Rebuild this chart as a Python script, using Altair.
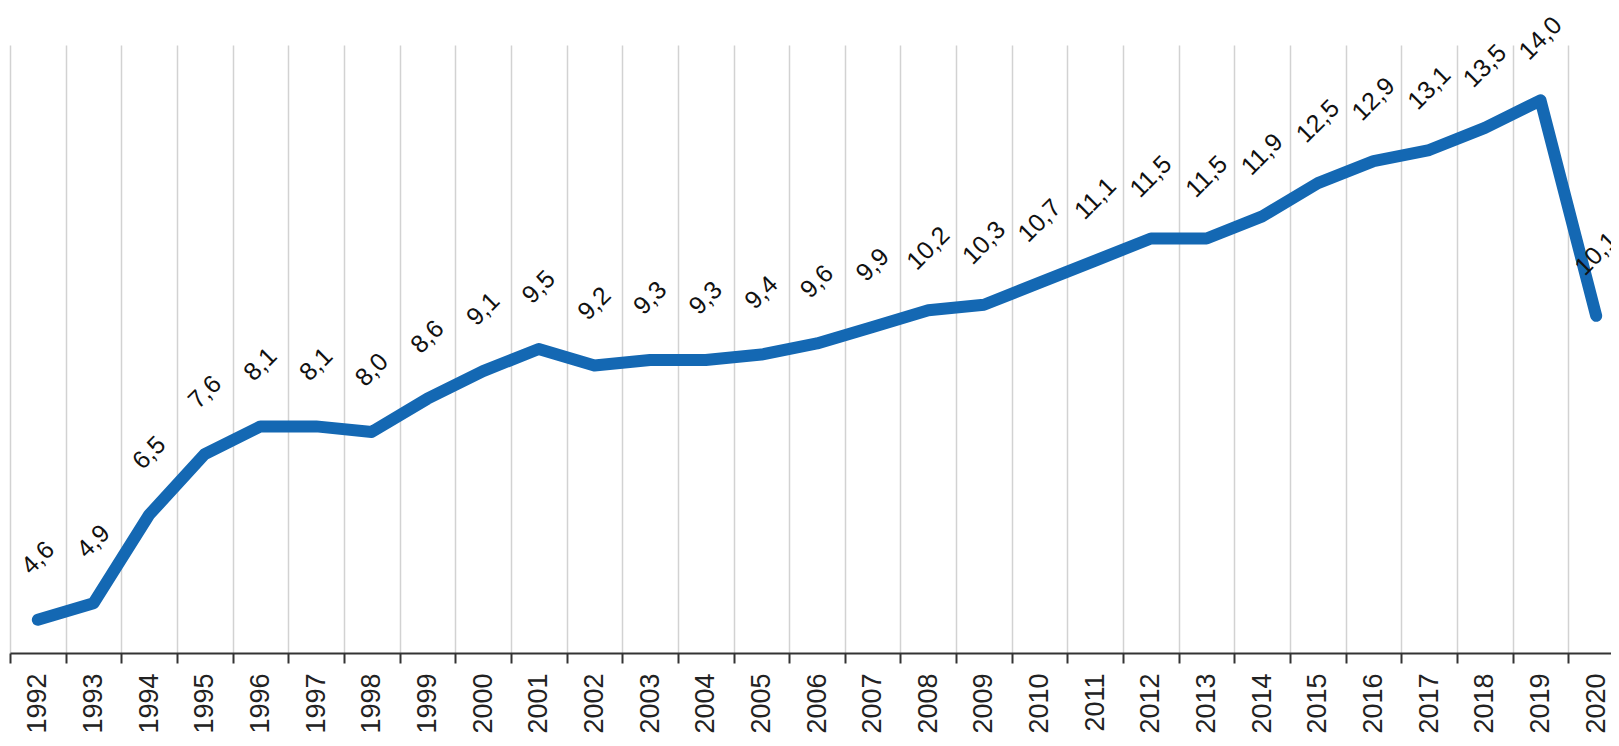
import altair as alt
import pandas as pd

years = [1992, 1993, 1994, 1995, 1996, 1997, 1998, 1999, 2000, 2001,
         2002, 2003, 2004, 2005, 2006, 2007, 2008, 2009, 2010, 2011,
         2012, 2013, 2014, 2015, 2016, 2017, 2018, 2019, 2020]
values = [4.6, 4.9, 6.5, 7.6, 8.1, 8.1, 8.0, 8.6, 9.1, 9.5,
          9.2, 9.3, 9.3, 9.4, 9.6, 9.9, 10.2, 10.3, 10.7, 11.1,
          11.5, 11.5, 11.9, 12.5, 12.9, 13.1, 13.5, 14.0, 10.1]
labels = [f"{v:.1f}".replace(".", ",") for v in values]

df = pd.DataFrame({"year": years, "value": values, "label": labels})

x = alt.X(
    "year:O",
    scale=alt.Scale(type="band", paddingInner=0, paddingOuter=0),
    axis=alt.Axis(
        title=None,
        labelAngle=-90,
        labelFontSize=27,
        labelFont="Liberation Sans",
        labelColor="#222222",
        labelPadding=10,
        tickSize=10,
        tickWidth=2,
        tickColor="#333333",
        domainColor="#333333",
        domainWidth=2,
        grid=True,
        gridColor="#d2d2d2",
        gridWidth=1.5,
        tickBand="extent",
    ),
)
y = alt.Y("value:Q", scale=alt.Scale(domain=[4, 15], zero=False, nice=False), axis=None)

base = alt.Chart(df).encode(x=x, y=y)

line = base.mark_line(
    color="#1468b3", strokeWidth=12, strokeCap="round", strokeJoin="round"
)
text = base.mark_text(
    angle=315, align="center", baseline="middle", yOffset=-62,
    fontSize=25, font="Liberation Sans", color="#111111"
).encode(text="label:N")

chart = (
    alt.layer(line, text)
    .properties(
        width=1614, height=608, autosize="none",
        padding={"left": 2, "top": 37, "right": -13, "bottom": 85},
        background="white",
    )
    .configure_view(strokeWidth=0)
)

chart.save("out.html", embed_options={"renderer": "svg", "actions": False})
